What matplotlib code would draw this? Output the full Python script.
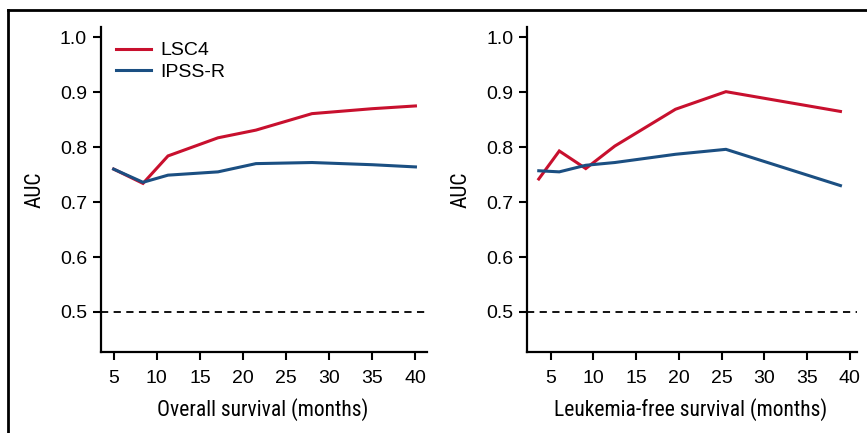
import matplotlib
matplotlib.use("Agg")
import matplotlib.pyplot as plt
from matplotlib.lines import Line2D
from matplotlib import font_manager

# Overall survival panel
os_months = [5.0, 8.4, 11.3, 17.1, 21.5, 28.0, 35.0, 40.0]
os_lsc4 = [0.760, 0.734, 0.784, 0.817, 0.831, 0.861, 0.870, 0.875]
os_ipssr = [0.760, 0.736, 0.749, 0.755, 0.770, 0.772, 0.768, 0.764]

# Leukemia-free survival panel
lfs_months = [3.6, 6.0, 9.1, 12.5, 19.6, 25.5, 38.9]
lfs_lsc4 = [0.742, 0.793, 0.761, 0.802, 0.869, 0.901, 0.865]
lfs_ipssr = [0.757, 0.755, 0.767, 0.772, 0.787, 0.796, 0.730]

xticks = [5, 10, 15, 20, 25, 30, 35, 40]
yticks = [0.5, 0.6, 0.7, 0.8, 0.9, 1.0]

red = "#C8102E"
blue = "#1B4F82"
tick_font = ["Liberation Sans", "DejaVu Sans"]

# pick a narrow family for axis labels if one is installed
installed = {f.name for f in font_manager.fontManager.ttflist}
narrow = [n for n in ["Liberation Sans Narrow", "Roboto Condensed", "Open Sans Condensed"]
          if n in installed]
label_font = narrow[:1] + ["Roboto", "DejaVu Sans"]
label_size = 15.5 if narrow else 13

fig = plt.figure(figsize=(8.67, 4.33), dpi=100)
ax1 = fig.add_axes([0.1165, 0.187, 0.3756, 0.751])
ax2 = fig.add_axes([0.6082, 0.187, 0.3799, 0.751])

panels = [
    (ax1, os_months, os_lsc4, os_ipssr, "Overall survival (months)", (3.53, 41.3)),
    (ax2, lfs_months, lfs_lsc4, lfs_ipssr, "Leukemia-free survival (months)", (2.26, 40.8)),
]

for ax, x, lsc4, ipssr, xlabel, xlim in panels:
    ax.plot(x, lsc4, color=red, lw=2.2, label="LSC4", solid_joinstyle="miter")
    ax.plot(x, ipssr, color=blue, lw=2.2, label="IPSS-R", solid_joinstyle="miter")
    ax.axhline(0.5, color="black", lw=1.3, ls=(0, (4, 3)))
    ax.set_xlim(*xlim)
    ax.set_ylim(0.427, 1.019)
    ax.set_xticks(xticks)
    ax.set_yticks(yticks)
    ax.set_yticklabels([f"{v:.1f}" for v in yticks])
    for s in ["top", "right"]:
        ax.spines[s].set_visible(False)
    for s in ["left", "bottom"]:
        ax.spines[s].set_linewidth(1.6)
    ax.tick_params(axis="both", length=6, width=1.5, labelsize=14)
    ax.tick_params(axis="y", pad=4)
    ax.tick_params(axis="x", pad=7)
    for lab in ax.get_xticklabels() + ax.get_yticklabels():
        lab.set_family(tick_font)
    ax.set_xlabel(xlabel, family=label_font, fontsize=label_size)
    ax.set_ylabel("AUC", family=label_font, fontsize=label_size)
    ax.xaxis.set_label_coords(0.497, -0.142)
    ax.yaxis.set_label_coords(-0.17, 0.5)

ax1.legend(loc="upper left", bbox_to_anchor=(0.01, 0.99), frameon=False,
           prop={"family": tick_font, "size": 14}, handlelength=1.8,
           handletextpad=0.5, labelspacing=0.2, borderaxespad=0.2)

# frame around the figure (top and left edges visible)
fig.add_artist(Line2D([8 / 867, 1.0], [1 - 10 / 433, 1 - 10 / 433],
                      transform=fig.transFigure, color="black", lw=2))
fig.add_artist(Line2D([8 / 867, 8 / 867], [0, 1 - 10 / 433],
                      transform=fig.transFigure, color="black", lw=2))

fig.savefig("out.png", dpi=100)
